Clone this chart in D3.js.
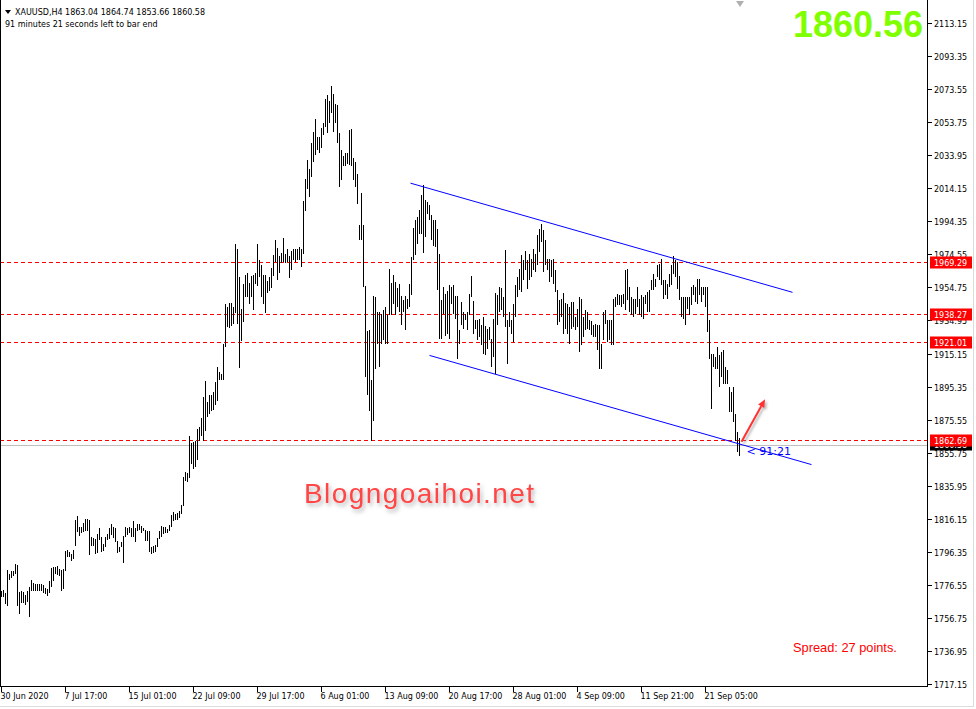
<!DOCTYPE html>
<html><head><meta charset="utf-8">
<script src="https://cdn.jsdelivr.net/npm/d3@7"></script>
<style>body{margin:0;background:#fff;} svg{display:block;}</style>
</head><body><svg id="c" width="976" height="709"></svg>
<script>
// ---- data (XAUUSD H4 bars: high / low) ----
const highs = [
1772.6,1773.6,1771.6,1785.4,1783.0,1784.6,1785.0,1789.0,1788.6,1772.0,
1773.0,1772.0,1770.4,1773.0,1775.0,1779.4,1777.8,1777.0,1777.2,1777.2,
1777.0,1776.4,1774.4,1774.0,1779.0,1786.4,1787.0,1787.4,1787.6,1786.0,
1785.6,1786.0,1797.0,1797.6,1796.0,1795.0,1797.6,1815.6,1818.0,1811.0,
1811.4,1813.4,1816.0,1816.0,1815.6,1805.0,1804.6,1804.0,1807.0,1810.6,
1805.0,1801.0,1805.0,1807.0,1810.6,1813.0,1811.4,1810.6,1803.0,1799.4,
1802.0,1806.0,1811.4,1810.6,1811.4,1810.6,1815.0,1810.6,1813.0,1813.0,
1812.0,1810.6,1809.4,1809.0,1809.0,1799.4,1799.6,1800.4,1804.4,1809.0,
1811.8,1811.4,1811.0,1810.0,1812.6,1818.6,1820.0,1819.0,1819.8,1820.6,
1824.4,1841.4,1844.0,1843.4,1866.0,1861.4,1862.0,1863.0,1870.0,1871.4,
1876.6,1889.0,1898.4,1886.0,1890.4,1890.4,1892.0,1898.0,1907.0,1903.8,
1902.6,1921.0,1944.6,1943.0,1945.4,1945.4,1943.0,1981.0,1977.6,1961.0,
1942.0,1956.6,1962.0,1963.4,1957.4,1961.4,1962.0,1963.4,1980.6,1971.4,
1968.4,1962.0,1962.0,1958.6,1961.0,1966.6,1974.0,1983.0,1978.6,1973.6,
1975.6,1984.6,1975.0,1978.0,1973.4,1976.6,1978.0,1978.0,1978.0,1979.0,
1977.6,2006.6,2019.6,2031.0,2025.4,2041.0,2048.0,2055.4,2045.0,2045.0,
2050.0,2053.4,2067.4,2070.0,2066.6,2075.4,2070.6,2064.6,2064.0,2047.0,
2037.0,2033.4,2035.4,2035.0,2049.0,2049.4,2032.0,2030.0,2022.6,1992.0,
2011.4,1992.0,1955.4,1928.4,1929.0,1899.0,1949.4,1949.0,1940.0,1940.0,
1939.0,1941.0,1943.0,1938.0,1966.0,1957.4,1962.0,1958.0,1954.6,1956.6,
1949.4,1947.0,1949.4,1948.0,1957.0,1973.0,1990.6,1995.4,1997.0,2001.4,
2010.0,2016.0,2007.4,2006.0,2004.4,1998.0,1995.4,1995.4,1990.0,1975.0,
1947.0,1955.0,1950.6,1952.6,1956.0,1955.0,1956.0,1949.4,1949.4,1929.0,
1946.0,1940.0,1939.0,1940.0,1951.0,1961.4,1946.4,1935.0,1935.0,1936.0,
1932.0,1937.0,1931.4,1930.0,1931.0,1924.0,1936.0,1951.4,1950.0,1955.0,
1954.6,1949.0,1977.0,1935.0,1940.0,1935.0,1945.0,1956.0,1961.0,1966.0,
1974.0,1971.0,1976.4,1971.4,1975.0,1972.0,1978.0,1975.0,1986.0,1990.0,
1993.0,1989.0,1983.0,1972.0,1972.0,1971.0,1972.0,1965.0,1953.0,1947.0,
1948.0,1951.4,1945.4,1945.0,1943.0,1946.0,1946.0,1937.0,1942.0,1949.0,
1948.0,1937.0,1941.0,1940.0,1935.0,1934.6,1932.0,1932.6,1932.4,1932.0,
1921.0,1940.0,1941.0,1935.0,1935.0,1935.0,1948.0,1949.0,1951.0,1950.0,
1950.0,1951.0,1965.0,1966.0,1955.0,1949.0,1948.0,1948.0,1955.0,1948.0,
1950.0,1949.0,1950.0,1952.0,1953.0,1959.0,1963.0,1960.0,1968.0,1969.0,
1972.0,1959.0,1959.0,1957.0,1963.0,1968.0,1973.4,1971.0,1970.0,1961.4,
1949.0,1949.0,1949.0,1949.0,1949.0,1955.0,1956.0,1955.0,1960.0,1960.0,
1955.0,1955.0,1955.0,1955.0,1935.0,1915.0,1915.0,1913.0,1919.0,1914.0,
1916.0,1917.0,1907.0,1905.0,1895.0,1892.0,1895.0,1879.0,1868.0,1864.74
];
const lows = [
1769.0,1769.0,1765.0,1764.0,1779.6,1780.4,1781.6,1783.0,1763.6,1759.0,
1765.6,1765.6,1764.6,1766.0,1757.0,1773.0,1772.6,1772.6,1772.6,1772.6,
1773.0,1771.4,1771.0,1769.6,1771.4,1775.0,1779.0,1783.0,1782.6,1782.0,
1773.0,1774.0,1784.6,1793.4,1793.0,1791.0,1792.0,1799.6,1808.4,1805.6,
1807.6,1808.4,1809.0,1809.0,1794.6,1800.0,1799.6,1795.0,1795.4,1803.4,
1796.0,1796.6,1799.0,1803.4,1804.0,1806.6,1804.6,1802.0,1795.4,1796.0,
1799.0,1789.4,1805.0,1806.6,1807.4,1805.4,1805.4,1802.0,1809.0,1809.6,
1807.6,1808.6,1803.0,1802.6,1796.0,1795.0,1795.4,1796.0,1799.0,1804.0,
1805.4,1807.0,1807.6,1807.8,1809.0,1811.0,1814.6,1815.6,1815.4,1816.6,
1819.0,1823.8,1839.0,1838.4,1840.6,1849.0,1846.0,1847.0,1851.4,1863.0,
1866.0,1863.0,1869.0,1877.0,1879.0,1881.0,1881.4,1884.0,1886.6,1899.4,
1899.4,1899.0,1919.0,1931.0,1930.6,1931.4,1932.6,1939.4,1933.0,1906.6,
1922.6,1934.0,1949.0,1949.0,1944.6,1949.0,1941.4,1957.0,1955.4,1961.0,
1949.0,1945.0,1939.4,1951.4,1952.6,1954.6,1961.4,1970.0,1959.4,1963.4,
1969.4,1970.0,1969.4,1970.0,1960.6,1965.0,1971.4,1970.0,1971.4,1971.0,
1967.0,1975.0,2000.4,2014.0,2009.0,2021.0,2030.0,2034.0,2037.0,2035.0,
2038.0,2046.0,2051.0,2047.4,2053.0,2059.0,2048.0,2053.4,2041.0,2015.0,
2019.0,2027.4,2027.4,2028.6,2028.0,2027.4,2019.0,2014.6,2005.0,1983.0,
1983.0,1955.0,1901.0,1890.0,1881.0,1862.7,1875.0,1906.0,1921.0,1907.0,
1921.0,1923.0,1921.0,1921.0,1938.0,1938.4,1945.0,1938.0,1943.0,1940.0,
1932.0,1940.0,1929.0,1942.0,1943.0,1950.0,1971.4,1974.0,1980.6,1987.0,
1987.0,1975.4,1985.0,1999.0,1995.0,1983.0,1979.4,1979.0,1953.4,1924.0,
1924.0,1939.0,1925.4,1927.0,1924.0,1945.0,1939.0,1936.0,1912.0,1921.0,
1932.0,1930.0,1935.0,1929.0,1938.0,1949.0,1927.0,1930.0,1923.0,1925.0,
1920.0,1915.0,1914.0,1918.0,1923.0,1907.0,1913.0,1902.6,1932.0,1940.0,
1941.0,1937.0,1931.0,1909.0,1931.0,1927.0,1922.0,1937.0,1949.0,1953.0,
1952.0,1959.0,1965.0,1954.0,1959.0,1961.0,1965.0,1964.0,1968.0,1976.0,
1982.0,1964.0,1968.0,1965.0,1958.0,1961.0,1957.0,1952.0,1932.0,1934.0,
1937.0,1927.0,1930.0,1927.0,1921.0,1930.0,1931.0,1929.0,1931.0,1916.0,
1920.0,1925.0,1929.0,1930.0,1929.0,1926.0,1925.0,1925.0,1917.0,1906.0,
1906.0,1923.0,1933.0,1922.0,1923.0,1920.0,1920.0,1943.0,1944.0,1944.0,
1943.0,1945.0,1941.0,1947.0,1940.0,1938.0,1937.0,1939.0,1943.0,1938.0,
1937.0,1936.0,1945.0,1940.0,1940.0,1953.0,1953.0,1955.0,1961.0,1959.0,
1956.0,1948.0,1950.0,1948.0,1955.0,1956.0,1963.0,1961.0,1954.0,1947.0,
1937.0,1936.0,1932.0,1942.0,1938.0,1944.0,1950.0,1946.0,1945.0,1950.0,
1946.0,1950.0,1943.0,1928.0,1912.0,1882.0,1907.0,1906.0,1906.0,1895.0,
1901.0,1897.0,1897.0,1897.0,1880.0,1880.0,1874.0,1863.0,1856.0,1853.66
];
const priceTicks = [2113.15,2093.35,2073.55,2053.75,2033.95,2014.15,1994.35,1974.55,1954.75,1934.95,
  1915.15,1895.35,1875.55,1855.75,1835.95,1816.15,1796.35,1776.55,1756.75,1736.95,1717.15];
const timeLabels = ["30 Jun 2020","7 Jul 17:00","15 Jul 01:00","22 Jul 09:00","29 Jul 17:00","6 Aug 01:00",
  "13 Aug 09:00","20 Aug 17:00","28 Aug 01:00","4 Sep 09:00","11 Sep 21:00","21 Sep 05:00"];
const timeLabelIdx = [0,32,64,96,128,160,192,224,256,288,320,352];
const levels = [1969.29, 1938.27, 1921.01, 1862.69];
const bidPrice = 1860.58;
const upperIdx = [204.5, 395.5], upperPrice = [2017.2, 1951.8];
const lowerIdx = [214, 405], lowerPrice = [1914.0, 1848.6];
const arrowIdx = [370, 381.8], arrowPrice = [1862.3, 1887.7];
const header1 = "XAUUSD,H4  1863.04 1864.74 1853.66 1860.58";
const header2 = "91 minutes 21 seconds left to bar end";

// ---- drawing ----
const svg = d3.select("#c");
const F = "'DejaVu Sans', sans-serif";
const R = 927; // plot right edge
const B = 686; // plot bottom edge
const x = d3.scaleLinear().domain([0, 369]).range([1.5, 739.5]);
const y = d3.scaleLinear().domain([1717.15, 2113.15]).range([684, 23]);
const rowY = v => 2 * Math.floor((y(v) - 0.5) / 2) + 0.5;

const defs = svg.append("defs");
const f1 = defs.append("filter").attr("id","sh").attr("x","-10%").attr("y","-30%").attr("width","130%").attr("height","180%");
f1.append("feDropShadow").attr("dx",2).attr("dy",3).attr("stdDeviation",2).attr("flood-color","#777").attr("flood-opacity",0.55);
const f2 = defs.append("filter").attr("id","sh2").attr("x","-50%").attr("y","-50%").attr("width","200%").attr("height","200%");
f2.append("feDropShadow").attr("dx",2).attr("dy",2).attr("stdDeviation",1.2).attr("flood-color","#888").attr("flood-opacity",0.6);

svg.append("rect").attr("width",976).attr("height",709).attr("fill","#fff");

// current bid line
svg.append("line").attr("x1",0).attr("x2",R).attr("y1",Math.round(y(bidPrice))+0.5).attr("y2",Math.round(y(bidPrice))+0.5)
  .attr("stroke","#c0c0c0").attr("stroke-width",1).attr("shape-rendering","crispEdges");

// levels (red dashed)
svg.append("g").selectAll("line").data(levels).join("line")
  .attr("x1",0).attr("x2",R)
  .attr("y1",d=>rowY(d)).attr("y2",d=>rowY(d))
  .attr("stroke","#ff0000").attr("stroke-width",1).attr("stroke-dasharray","4,3")
  .attr("shape-rendering","crispEdges");

// bars
svg.append("g").selectAll("line").data(highs).join("line")
  .attr("x1",(d,i)=>x(i)).attr("x2",(d,i)=>x(i))
  .attr("y1",d=>Math.round(y(d)))
  .attr("y2",(d,i)=>Math.max(Math.round(y(lows[i])), Math.round(y(d))+1))
  .attr("stroke","#000").attr("stroke-width",1).attr("shape-rendering","crispEdges");

// channel lines
const chan = d3.line().x(d=>x(d[0])).y(d=>y(d[1]));
svg.append("path").attr("d",chan(upperIdx.map((v,k)=>[v,upperPrice[k]])))
  .attr("stroke","#0000ff").attr("stroke-width",1).attr("fill","none");
svg.append("path").attr("d",chan(lowerIdx.map((v,k)=>[v,lowerPrice[k]])))
  .attr("stroke","#0000ff").attr("stroke-width",1).attr("fill","none");

// arrow
{
  const x1 = x(arrowIdx[0]), y1 = y(arrowPrice[0]), x2 = x(arrowIdx[1]), y2 = y(arrowPrice[1]);
  const ang = Math.atan2(y2-y1, x2-x1);
  const L = 8, W = 3.5;
  const bx = x2 - L*Math.cos(ang), by = y2 - L*Math.sin(ang);
  const g = svg.append("g").attr("filter","url(#sh2)");
  g.append("line").attr("x1",x1).attr("y1",y1).attr("x2",bx).attr("y2",by)
    .attr("stroke","#ff3030").attr("stroke-width",2);
  g.append("path").attr("d",`M${x2},${y2}L${bx+W*Math.sin(ang)},${by-W*Math.cos(ang)}L${bx-W*Math.sin(ang)},${by+W*Math.cos(ang)}Z`)
    .attr("fill","#ff3030");
}

// time-left text
svg.append("text").attr("x",x(372.5)).attr("y",455).text("< 91:21")
  .attr("font-family",F).attr("font-size","11px").attr("fill","#0000ff");

// frame
svg.append("line").attr("x1",0.5).attr("x2",0.5).attr("y1",0).attr("y2",B+1).attr("stroke","#000").attr("shape-rendering","crispEdges");
svg.append("line").attr("x1",0).attr("x2",R+1).attr("y1",B+0.5).attr("y2",B+0.5).attr("stroke","#000").attr("shape-rendering","crispEdges");
svg.append("line").attr("x1",R+0.5).attr("x2",R+0.5).attr("y1",0).attr("y2",B+1).attr("stroke","#000").attr("shape-rendering","crispEdges");

// right axis
const ra = svg.append("g");
ra.selectAll("line").data(priceTicks).join("line")
  .attr("x1",R+1).attr("x2",R+5).attr("y1",d=>Math.round(y(d))+0.5).attr("y2",d=>Math.round(y(d))+0.5)
  .attr("stroke","#000").attr("shape-rendering","crispEdges");
ra.selectAll("text").data(priceTicks).join("text")
  .attr("x",R+7).attr("y",d=>Math.round(y(d))+3.5).text(d=>d.toFixed(2))
  .attr("font-family",F).attr("font-size","8px").attr("fill","#000");

// bid label (black) then level labels (red), drawn over the axis labels as in the reference
function tag(v, fill){
  const cy = rowY(v) - 0.5;
  svg.append("rect").attr("x",R+3).attr("y",cy-5.5).attr("width",42).attr("height",12).attr("fill",fill);
  svg.append("text").attr("x",R+7).attr("y",cy+4).text(v.toFixed(2))
    .attr("font-family",F).attr("font-size","8px").attr("fill","#fff");
}
tag(bidPrice, "#000");
levels.forEach(v=>tag(v, "#ff0000"));

// bottom axis
const ba = svg.append("g");
ba.selectAll("line").data(timeLabelIdx).join("line")
  .attr("x1",d=>Math.floor(x(d))+0.5).attr("x2",d=>Math.floor(x(d))+0.5).attr("y1",B+1).attr("y2",B+6)
  .attr("stroke","#000").attr("shape-rendering","crispEdges");
ba.selectAll("text").data(timeLabelIdx).join("text")
  .attr("x",d=>x(d)-1).attr("y",699).text((d,k)=>timeLabels[k])
  .attr("font-family",F).attr("font-size","8px").attr("fill","#000");

// window border (light gray)
svg.append("line").attr("x1",0).attr("x2",974).attr("y1",706.5).attr("y2",706.5).attr("stroke","#dcdcdc").attr("shape-rendering","crispEdges");
svg.append("line").attr("x1",973.5).attr("x2",973.5).attr("y1",0).attr("y2",707).attr("stroke","#dcdcdc").attr("shape-rendering","crispEdges");

// header
svg.append("path").attr("d","M5,10L11,10L8,14Z").attr("fill","#000");
svg.append("text").attr("x",15).attr("y",15).text(header1).attr("font-family",F).attr("font-size","8px").attr("fill","#000");
svg.append("text").attr("x",5).attr("y",27).text(header2).attr("font-family",F).attr("font-size","8px").attr("fill","#000");
svg.append("path").attr("d","M736,1L744,1L740,7Z").attr("fill","#b0b0b0");

// big price
svg.append("text").attr("x",793).attr("y",37).text("1860.56")
  .attr("font-family","'Liberation Sans', Arial, sans-serif").attr("font-weight","bold").attr("font-size","36px").attr("fill","#80ff00");

// watermark
svg.append("text").attr("x",304).attr("y",503).text("Blogngoaihoi.net")
  .attr("font-family","'Liberation Sans', Arial, sans-serif").attr("font-size","28px")
  .attr("textLength",230).attr("lengthAdjust","spacing")
  .attr("fill","#ff4545").attr("filter","url(#sh)");

// spread
svg.append("text").attr("x",793).attr("y",652).text("Spread: 27 points.")
  .attr("font-family","'Liberation Sans', Arial, sans-serif").attr("font-size","12.8px").attr("fill","#ff0000");
</script></body></html>
